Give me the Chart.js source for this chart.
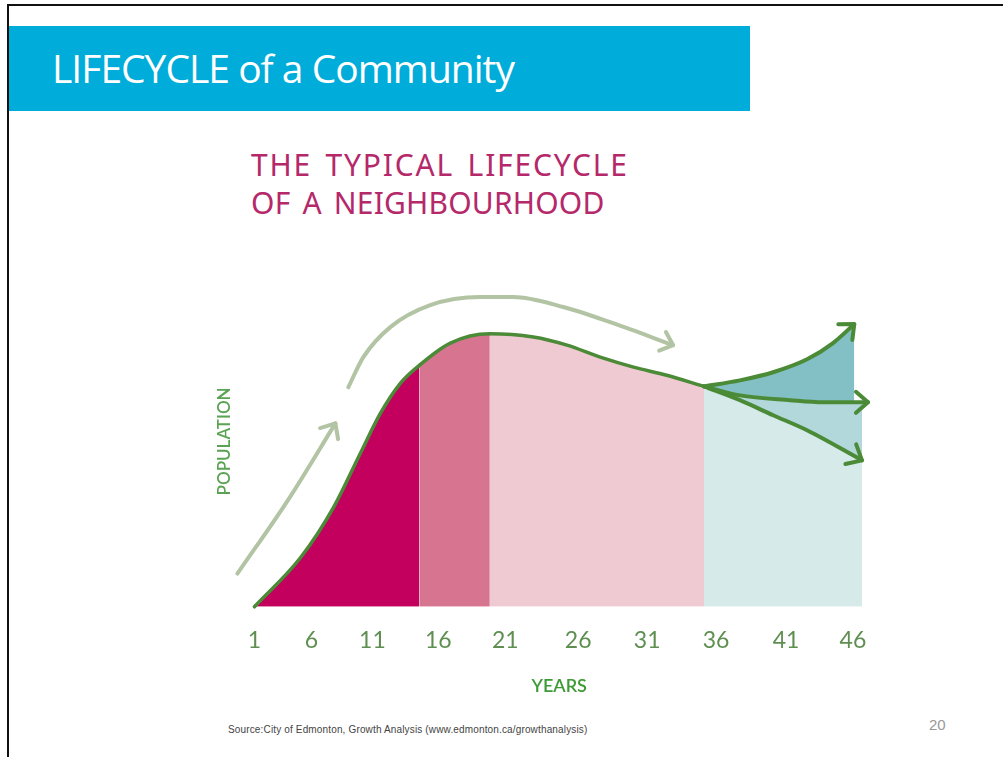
<!DOCTYPE html>
<html lang="en">
<head>
    <meta charset="UTF-8">
    <title>LIFECYCLE of a Community</title>
    <script src="https://cdn.jsdelivr.net/npm/chart.js"></script>
    <style>
        body {
            margin: 0;
            width: 1003px;
            height: 757px;
            background: white;
            position: relative;
            overflow: hidden;
        }
        .frame-left {
            position: absolute;
            left: 7px; top: 4px;
            width: 2px; height: 757px;
            background: #111;
        }
        .frame-top {
            position: absolute;
            left: 7px; top: 4px;
            width: 996px; height: 2px;
            background: #111;
        }
        .header {
            position: absolute;
            left: 9px; top: 26px;
            width: 741px; height: 85px;
            background: #00acd9;
        }
        .header span {
            position: absolute;
            left: 43px; top: 15px;
            font-family: "Open Sans", sans-serif;
            font-size: 39px;
            letter-spacing: -1px;
            color: white;
            white-space: nowrap;
        }
        .chart-title {
            position: absolute;
            left: 251px; top: 146px;
            font-family: "Noto Sans", sans-serif;
            font-size: 30px;
            line-height: 38px;
            word-spacing: 4px;
            color: #b5286a;
            white-space: nowrap;
        }
        .chart-title .l1 { letter-spacing: 1.8px; }
        .chart-title .l2 { letter-spacing: 0.2px; }
        #chartLifecycle {
            position: absolute;
            left: 190px; top: 240px;
        }
        .source {
            position: absolute;
            left: 228px; top: 724px;
            font-family: "Liberation Sans", sans-serif;
            font-size: 10px;
            letter-spacing: 0.15px;
            color: #444;
        }
        .page-num {
            position: absolute;
            left: 929px; top: 716px;
            font-family: "Liberation Sans", sans-serif;
            font-size: 15px;
            color: #999;
        }
    </style>
</head>
<body>
    <div class="frame-left"></div>
    <div class="frame-top"></div>
    <div class="header"><span>LIFECYCLE of a Community</span></div>
    <div class="chart-title"><span class="l1">THE TYPICAL LIFECYCLE</span><br><span class="l2">OF A NEIGHBOURHOOD</span></div>
    <canvas id="chartLifecycle" width="720" height="480"></canvas>
    <div class="source">Source:City of Edmonton, Growth Analysis (www.edmonton.ca/growthanalysis)</div>
    <div class="page-num">20</div>

    <script>
        // tick labels and where they sit on the year axis of the drawing
        const yearTickPos = [1, 5.28, 9.87, 14.82, 19.86, 25.34, 30.53, 35.71, 40.97, 46];
        const yearTickText = ['1', '6', '11', '16', '21', '26', '31', '36', '41', '46'];

        // stage boundaries under the curve (years)
        const stageEdges = [13.4, 18.7];

        // main population curve
        const mainYears = [1, 4.46, 6.94, 8.96, 10.47, 11.97, 13.4, 15.73, 18.7, 21.96, 24.5, 27, 29.5, 32, 34.8];
        const mainPop = [0, 16.3, 33, 51, 64.3, 74.3, 80.3, 87.7, 90.8, 89.7, 87, 83, 79.7, 77, 73.3];

        // three possible futures
        const upYears = [34.8, 37.5, 40.0, 42.55, 44.5, 46.1];
        const upPop = [73.3, 75.3, 78, 82.3, 87.7, 94];
        const flatYears = [34.8, 37.5, 41.27, 43.75, 47.13];
        const flatPop = [73.3, 70.3, 68.7, 68, 68];
        const downYears = [34.8, 37.5, 40.0, 42.55, 46.68];
        const downPop = [73.3, 68.7, 63.7, 58.7, 48.7];

        // pale growth arrows
        const growthYears = [-0.28, 3.6, 7.09];
        const growthPop = [11, 36, 61];
        const matureYears = [8.06, 9.19, 11.22, 14.22, 17.98, 20.46, 24.22, 27.97, 32.48];
        const maturePop = [73, 83, 93, 100.3, 103, 103, 99.7, 94.3, 87];

        const green = '#4b8a36';
        const pale = '#b2c4a3';
        const stageColors = ['#c3005d', '#d7748f', '#f0cad3'];

        function pts(xs, ys) {
            return xs.map((x, i) => ({ x: x, y: ys[i] }));
        }

        function stageColor(x) {
            if (x < stageEdges[0] - 0.01) return stageColors[0];
            if (x < stageEdges[1] - 0.01) return stageColors[1];
            return stageColors[2];
        }

        const arrowHeads = {
            id: 'arrowHeads',
            afterDatasetsDraw(chart) {
                const ctx = chart.ctx;
                chart.data.datasets.forEach((ds, i) => {
                    if (!ds.arrowLen) return;
                    const data = chart.getDatasetMeta(i).data;
                    const tip = data[data.length - 1];
                    let from = data[data.length - 2];
                    if (tip.cp1x !== undefined && Math.hypot(tip.x - tip.cp1x, tip.y - tip.cp1y) > 1) {
                        from = { x: tip.cp1x, y: tip.cp1y };
                    }
                    const a = Math.atan2(tip.y - from.y, tip.x - from.x);
                    const spread = 0.72;
                    ctx.save();
                    ctx.strokeStyle = ds.borderColor;
                    ctx.lineWidth = ds.borderWidth;
                    ctx.lineCap = 'round';
                    ctx.lineJoin = 'round';
                    ctx.beginPath();
                    ctx.moveTo(tip.x - ds.arrowLen * Math.cos(a - spread), tip.y - ds.arrowLen * Math.sin(a - spread));
                    ctx.lineTo(tip.x, tip.y);
                    ctx.lineTo(tip.x - ds.arrowLen * Math.cos(a + spread), tip.y - ds.arrowLen * Math.sin(a + spread));
                    ctx.stroke();
                    ctx.restore();
                });
            }
        };

        const lineDefaults = {
            pointRadius: 0,
            cubicInterpolationMode: 'monotone',
            borderCapStyle: 'round',
            clip: false
        };

        new Chart(document.getElementById('chartLifecycle'), {
            type: 'line',
            data: {
                datasets: [
                    Object.assign({}, lineDefaults, {
                        data: pts(mainYears, mainPop),
                        borderColor: green,
                        borderWidth: 3.5,
                        fill: 'origin',
                        backgroundColor: stageColors[2],
                        segment: {
                            backgroundColor: c => stageColor(c.p0.parsed.x)
                        }
                    }),
                    Object.assign({}, lineDefaults, {
                        data: pts(upYears, upPop),
                        borderColor: green,
                        borderWidth: 4,
                        fill: '+1',
                        backgroundColor: '#82c0c5',
                        arrowLen: 16
                    }),
                    Object.assign({}, lineDefaults, {
                        data: pts(flatYears, flatPop),
                        borderColor: green,
                        borderWidth: 4,
                        fill: '+1',
                        backgroundColor: '#b3d8dc',
                        arrowLen: 16
                    }),
                    Object.assign({}, lineDefaults, {
                        data: pts(downYears, downPop),
                        borderColor: green,
                        borderWidth: 4,
                        fill: 'origin',
                        backgroundColor: '#d6eaea',
                        arrowLen: 17
                    }),
                    Object.assign({}, lineDefaults, {
                        data: pts(growthYears, growthPop),
                        borderColor: pale,
                        borderWidth: 4,
                        fill: false,
                        arrowLen: 16
                    }),
                    Object.assign({}, lineDefaults, {
                        data: pts(matureYears, maturePop),
                        borderColor: pale,
                        borderWidth: 4,
                        fill: false,
                        arrowLen: 15
                    })
                ]
            },
            options: {
                responsive: false,
                animation: false,
                layout: {
                    padding: { left: 20, top: 36, right: 46, bottom: 19 }
                },
                plugins: {
                    legend: { display: false },
                    tooltip: { enabled: false },
                    filler: { drawTime: 'beforeDatasetsDraw' }
                },
                scales: {
                    x: {
                        type: 'linear',
                        min: 1,
                        max: 46.83,
                        grid: { display: false, drawTicks: false },
                        border: { display: false },
                        afterBuildTicks: s => {
                            s.ticks = yearTickPos.map(v => ({ value: v }));
                        },
                        ticks: {
                            autoSkip: false,
                            maxRotation: 0,
                            padding: 20,
                            color: '#5e8f50',
                            font: { family: 'Lato', size: 23 },
                            callback: (v, i) => yearTickText[i]
                        },
                        title: {
                            display: true,
                            text: 'YEARS',
                            color: '#3d9a35',
                            font: { family: 'Lato', size: 18, weight: '600' },
                            padding: { top: 1, bottom: 4 }
                        }
                    },
                    y: {
                        min: 0,
                        max: 110,
                        grid: { display: false, drawTicks: false },
                        border: { display: false },
                        ticks: { display: false },
                        title: {
                            display: true,
                            text: 'POPULATION',
                            color: '#5aa352',
                            font: { family: 'Lato', size: 17, weight: '600' },
                            padding: { top: 4, bottom: 20 }
                        }
                    }
                }
            },
            plugins: [arrowHeads]
        });
    </script>
</body>
</html>
